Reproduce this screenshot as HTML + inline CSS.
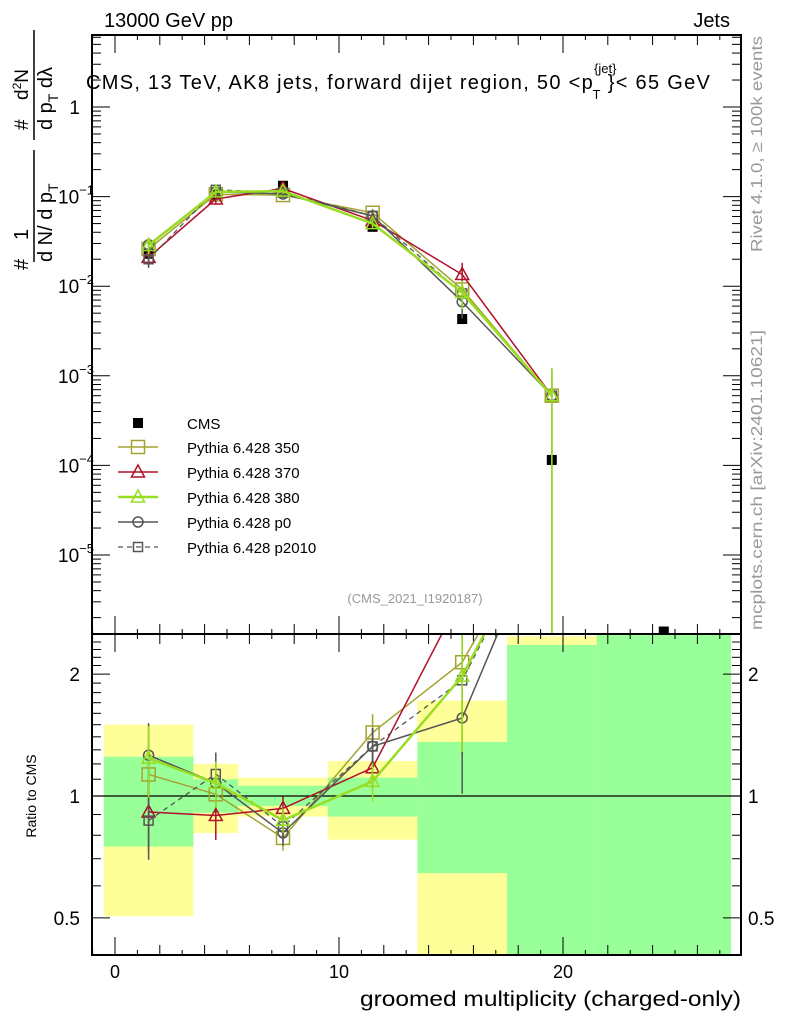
<!DOCTYPE html>
<html><head><meta charset="utf-8"><style>
html,body{margin:0;background:#fff;overflow:hidden;width:786px;height:1024px}
svg{font-family:"Liberation Sans",sans-serif;display:block}
</style></head><body>
<svg id="c" width="786" height="1024" viewBox="0 0 786 1024" xmlns="http://www.w3.org/2000/svg">
<defs>
<clipPath id="cm"><rect x="92" y="35" width="649" height="599"/></clipPath>
<clipPath id="cr"><rect x="92" y="634" width="649" height="321"/></clipPath>
</defs>
<g id="bands" clip-path="url(#cr)"></g>
<g id="ticks"></g>
<g id="main" clip-path="url(#cm)"></g>
<g id="ratio" clip-path="url(#cr)"></g>
<rect x="92" y="35" width="649" height="599" fill="none" stroke="#000" stroke-width="2"/>
<rect x="92" y="634" width="649" height="321" fill="none" stroke="#000" stroke-width="2"/>
<text x="104" y="27" font-size="20">13000 GeV pp</text>
<text x="730" y="27" font-size="20" text-anchor="end">Jets</text>
<text x="86" y="89" font-size="20" letter-spacing="1.3">CMS, 13 TeV, AK8 jets, forward dijet region, 50 &lt;p<tspan font-size="13" letter-spacing="0" dy="-16">{jet}</tspan><tspan font-size="13" dx="-24" dy="26">T</tspan><tspan dy="-10" dx="6">}&lt; 65 GeV</tspan></text>
<text x="415" y="603" font-size="13" fill="#999" text-anchor="middle">(CMS_2021_I1920187)</text>
<text transform="translate(762,252) rotate(-90)" font-size="16" fill="#999" textLength="216" lengthAdjust="spacingAndGlyphs">Rivet 4.1.0, ≥ 100k events</text>
<text transform="translate(762,630) rotate(-90)" font-size="16" fill="#999" textLength="300" lengthAdjust="spacingAndGlyphs">mcplots.cern.ch [arXiv:2401.10621]</text>
<g font-size="20">
<text transform="translate(28,270) rotate(-90)">#</text>
<text transform="translate(28,240) rotate(-90)">1</text>
<line x1="34" y1="262" x2="34" y2="150" stroke="#000" stroke-width="1.5"/>
<text transform="translate(52,262) rotate(-90)">d N/ d p<tspan font-size="14" dy="6">T</tspan></text>
<text transform="translate(28,130) rotate(-90)" font-size="19">#</text>
<line x1="34" y1="140" x2="34" y2="30" stroke="#000" stroke-width="1.5"/>
<text transform="translate(28,100) rotate(-90)" font-size="19">d<tspan font-size="12" dy="-7">2</tspan><tspan dy="7">N</tspan></text>
<text transform="translate(52,130) rotate(-90)">d p<tspan font-size="14" dy="6">T</tspan><tspan dy="-6"> d</tspan>λ</text>
</g>
<text transform="translate(36,796) rotate(-90)" font-size="14" text-anchor="middle">Ratio to CMS</text>
<text x="360" y="1006" font-size="21" textLength="381" lengthAdjust="spacingAndGlyphs">groomed multiplicity (charged-only)</text>
<g id="legend"></g>
</svg>
<script>
const xCenters=[1.5,4.5,7.5,11.5,15.5,19.5,24.5];
const binEdges=[-0.5,3.5,5.5,9.5,13.5,17.5,21.5,27.5];
const cmsValues=[0.023,0.105,0.132,0.046,0.0043,0.000115,0.0000014];
const cmsErr=[0.002,0.006,0.007,0.003,0.0004,0.00001,0];
const mcX=[1.5,4.5,7.5,11.5,15.5,19.5];
const py350=[0.026,0.106,0.104,0.066,0.0092,0.0006];
const py370=[0.021,0.094,0.123,0.054,0.0135,0.0006];
const py380=[0.0285,0.113,0.115,0.050,0.0085,0.0006];
const pyP0=[0.029,0.113,0.107,0.061,0.0067,0.0006];
const pyP2010=[0.020,0.119,0.111,0.061,0.0083,0.0006];
const mcRelErr=[0.2,0.13,0.07,0.11,0.35,1.0];
const yellowLo=[0.505,0.81,0.89,0.78,0.3,0.3,0.3];
const yellowHi=[1.50,1.20,1.11,1.22,1.72,2.48,3];
const greenLo=[0.75,0.91,0.945,0.89,0.645,0.3,0.3];
const greenHi=[1.25,1.10,1.06,1.11,1.36,2.36,3];
const xTicks=[0,10,20];
const mainTicks=[-5,-4,-3,-2,-1,0];
const ratioTicks=[0.5,1,2];
const NS="http://www.w3.org/2000/svg";
const X=v=>115+22.4*v;
const Y=v=>107-89.6*Math.log10(v);
const R=v=>796-405*Math.log10(v);
function mk(t,a,p){const e=document.createElementNS(NS,t);for(const k in a)e.setAttribute(k,a[k]);p.appendChild(e);return e;}
const gB=document.getElementById('bands'),gM=document.getElementById('main'),gR=document.getElementById('ratio'),gT=document.getElementById('ticks'),gL=document.getElementById('legend');
for(let i=0;i<yellowLo.length;i++){
 let r=mk('rect',{x:X(binEdges[i]),y:R(yellowHi[i]),width:X(binEdges[i+1])-X(binEdges[i]),height:R(yellowLo[i])-R(yellowHi[i]),fill:'#ffff99'},gB);
 
 
 let g=mk('rect',{x:X(binEdges[i]),y:R(greenHi[i]),width:X(binEdges[i+1])-X(binEdges[i]),height:R(greenLo[i])-R(greenHi[i]),fill:'#99ff99'},gB);
 
 
}
mk('line',{x1:92,x2:741,y1:R(1),y2:R(1),stroke:'#000','stroke-width':1.2},gR);
for(let v=-1;v<=27;v++){const len=v%10==0?18:(v%2==0?10:5);
 mk('line',{x1:X(v),x2:X(v),y1:35,y2:35+len,stroke:'#000'},gT);
 mk('line',{x1:X(v),x2:X(v),y1:634,y2:634-len,stroke:'#000'},gT);
 mk('line',{x1:X(v),x2:X(v),y1:634,y2:634+len,stroke:'#000'},gT);
 mk('line',{x1:X(v),x2:X(v),y1:955,y2:955-len,stroke:'#000'},gT);}
xTicks.forEach(v=>{const t=mk('text',{x:X(v),y:978,'font-size':18,'text-anchor':'middle'},gT);t.textContent=v;
 
 });
for(let d=-6;d<=0;d++){for(let m=1;m<10;m++){const v=m*Math.pow(10,d);const y=Y(v);if(y<35||y>634)continue;const len=m==1?18:9;
 mk('line',{x1:92,x2:92+len,y1:y,y2:y,stroke:'#000'},gT);mk('line',{x1:741,x2:741-len,y1:y,y2:y,stroke:'#000'},gT);}}
mainTicks.forEach(d=>{const t=mk('text',{x:d==0?80:58,y:Y(Math.pow(10,d))+7,'font-size':19,'text-anchor':d==0?'end':'start'},gT);
 
 
 if(d==0)t.textContent='1';else{t.textContent='10';const s=mk('tspan',{'font-size':13,dy:-9},t);s.textContent='−'+(-d);}});
for(let v=0.4;v<=2.5;v+=0.1){const y=R(v);if(y<634||y>955)continue;const big=[0.5,1,2].some(q=>Math.abs(q-v)<1e-6);const len=big?18:9;
 mk('line',{x1:92,x2:92+len,y1:y,y2:y,stroke:'#000'},gT);mk('line',{x1:741,x2:741-len,y1:y,y2:y,stroke:'#000'},gT);}
ratioTicks.forEach(v=>{[[80,'end'],[748,'start']].forEach(([x,a])=>{const t=mk('text',{x:x,y:R(v)+7,'font-size':19,'text-anchor':a},gT);t.textContent=v;
 
 });});
cmsValues.forEach((v,i)=>{const x=X(xCenters[i]);
 if(cmsErr[i])mk('line',{x1:x,x2:x,y1:Y(v+cmsErr[i]),y2:Y(v-cmsErr[i]),stroke:'#000','stroke-width':2},gM);
 const r=mk('rect',{x:x-5,y:Y(v)-5,width:10,height:10,fill:'#000'},gM);
 
 });
function marker(g,type,x,y,col){
 if(type=='sq')mk('rect',{x:x-6.5,y:y-6.5,width:13,height:13,fill:'none',stroke:col,'stroke-width':1.5},g);
 else if(type=='sqs')mk('rect',{x:x-4.5,y:y-4.5,width:9,height:9,fill:'none',stroke:col,'stroke-width':1.5},g);
 else if(type=='tri')mk('polygon',{points:`${x},${y-7} ${x-6.5},${y+5} ${x+6.5},${y+5}`,fill:'none',stroke:col,'stroke-width':1.5},g);
 else mk('circle',{cx:x,cy:y,r:5,fill:'none',stroke:col,'stroke-width':1.5},g);}
const series=[
 {name:'Pythia 6.428 350',vals:py350,col:'#a3a331',m:'sq',w:1.5,dash:null},
 {name:'Pythia 6.428 370',vals:py370,col:'#b0102a',m:'tri',w:1.5,dash:null},
 {name:'Pythia 6.428 380',vals:py380,col:'#99dd22',m:'tri',w:2.5,dash:null},
 {name:'Pythia 6.428 p0',vals:pyP0,col:'#555555',m:'circ',w:1.5,dash:null},
 {name:'Pythia 6.428 p2010',vals:pyP2010,col:'#555555',m:'sqs',w:1.3,dash:'5,4'}];
const drawOrder=[0,1,3,4,2];
drawOrder.forEach(k=>{const s=series[k];
 const gm=mk('g',{},gM);
 
 
 const gr=mk('g',{},gR);
 
 
 const pm=s.vals.map((v,i)=>X(mcX[i])+','+Y(v)).join(' ');
 const rv=s.vals.map((v,i)=>v/cmsValues[i]);
 const pr=rv.map((v,i)=>X(mcX[i])+','+R(v)).join(' ');
 const a={fill:'none',stroke:s.col,'stroke-width':s.w};if(s.dash)a['stroke-dasharray']=s.dash;
 mk('polyline',Object.assign({points:pm},a),gm);
 mk('polyline',Object.assign({points:pr},a),gr);
 s.vals.forEach((v,i)=>{const x=X(mcX[i]);const e=mcRelErr[i];
  mk('line',{x1:x,x2:x,y1:Y(v*(1+e)),y2:Y(Math.max(v*(1-e),1e-9)),stroke:s.col,'stroke-width':1.5},gm);
  if(rv[i]<3)mk('line',{x1:x,x2:x,y1:R(rv[i]*(1+e)),y2:R(Math.max(rv[i]*(1-e),0.01)),stroke:s.col,'stroke-width':1.5},gr);
  marker(gm,s.m,x,Y(v),s.col);marker(gr,s.m,x,R(rv[i]),s.col);});
 const ly=447+k*25;
 const l=mk('line',{x1:118,x2:158,y1:ly,y2:ly,stroke:s.col,'stroke-width':s.w},gL);if(s.dash)l.setAttribute('stroke-dasharray',s.dash);
 marker(gL,s.m,138,ly,s.col);
 const t=mk('text',{x:187,y:ly+6,'font-size':15},gL);t.textContent=s.name;
 
 
});
mk('rect',{x:133,y:418,width:10,height:10,fill:'#000'},gL);
const ct=mk('text',{x:187,y:429,'font-size':15},gL);ct.textContent='CMS';


</script>
</body></html>
